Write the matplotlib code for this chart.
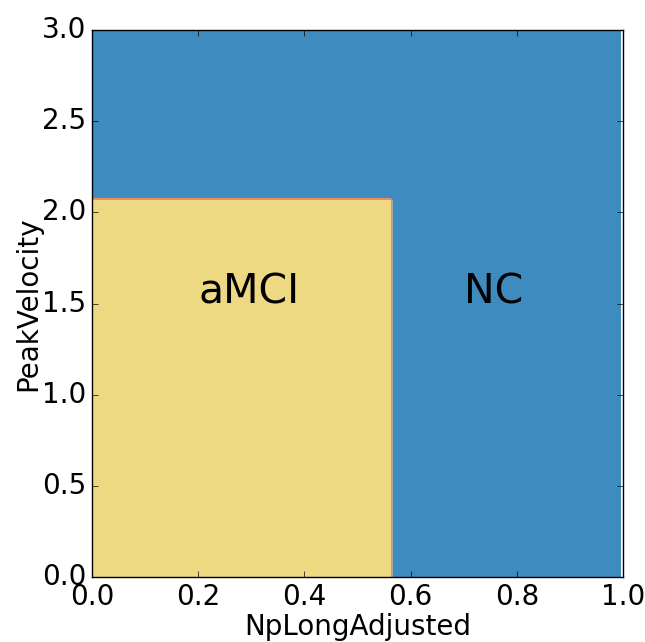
# -*- coding: utf-8 -*-
import numpy as np
import matplotlib
matplotlib.use('Agg')
import matplotlib.pyplot as plt
from matplotlib.colors import ListedColormap

# decision rule: aMCI if NpLongAdjusted < x_split and PeakVelocity < y_split
x_split = 0.567
y_split = 2.072
class_names = ['aMCI', 'NC']
label_x = [0.2, 0.7]
label_y = [1.5, 1.5]

# yellow (aMCI) -> orange -> pinkish grey -> blue (NC)
band_colors = ['#EDD982', '#F2923A', '#EA8E5C', '#B0A0A0', '#3E8BBF']

plt.style.use('classic')
plt.rcParams['font.family'] = 'DejaVu Sans'

fig = plt.figure(figsize=(6.45, 6.42), dpi=100)
ax = fig.add_axes([92/645, 1 - 577/642, 531/645, 547/642])

xx, yy = np.meshgrid(np.linspace(0, 0.996, 134), np.arange(0, 3.02, 0.015))
Z = np.where((xx < x_split) & (yy < y_split), 0, 1)

ax.contourf(xx, yy, Z, levels=[-0.5, 0.2, 0.4, 0.6, 0.8, 1.5],
            cmap=ListedColormap(band_colors))

for name, tx, ty in zip(class_names, label_x, label_y):
    ax.text(tx, ty, name, fontsize=29.5)

ax.set_xlim(0, 1)
ax.set_ylim(0, 3)
ax.set_xticks(np.arange(0, 1.01, 0.2))
ax.set_yticks(np.arange(0, 3.01, 0.5))
ax.tick_params(labelsize=20)
ax.set_xlabel('NpLongAdjusted', fontsize=20, labelpad=2)
ax.set_ylabel('PeakVelocity', fontsize=20, labelpad=0)

fig.savefig('out.png', dpi=100, facecolor='white')
